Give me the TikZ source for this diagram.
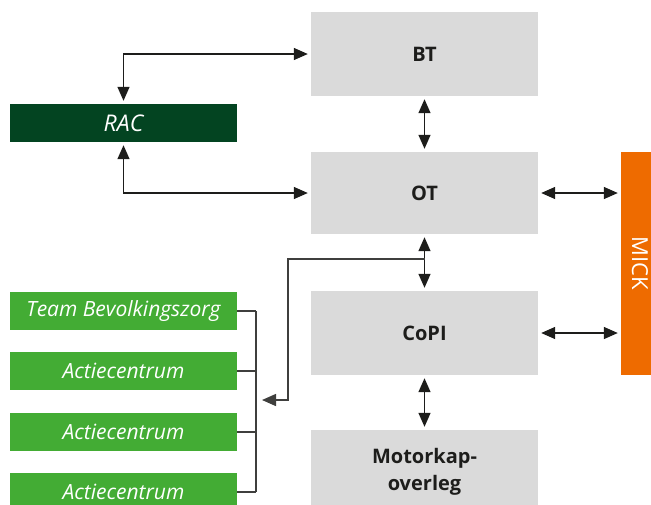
\documentclass[tikz,border=0pt]{standalone}
\usepackage{fontspec}
\setmainfont{Open Sans}
\usepackage{tikz}
\usetikzlibrary{arrows.meta, positioning, calc}
\definecolor{boxgray}{RGB}{218, 218, 218}
\definecolor{racgreen}{RGB}{3, 68, 33}
\definecolor{leaf}{RGB}{67, 172, 52}
\definecolor{mickorange}{RGB}{238, 107, 0}
\definecolor{ink}{RGB}{29, 29, 27}

\begin{document}
\begin{tikzpicture}[x=1pt, y=-1pt,
  gbx/.style={rectangle, fill=boxgray, text=ink,
    font=\fontsize{20pt}{24pt}\selectfont\bfseries,
    minimum width=227pt, minimum height=84pt,
    align=center, inner sep=0pt},
  lbx/.style={rectangle, fill=leaf, text=white,
    font=\fontsize{21pt}{24pt}\selectfont\itshape,
    minimum width=227pt, minimum height=38pt, inner sep=0pt},
  tip/.style={Triangle[length=14pt, width=12pt]},
  arr/.style={{Triangle[length=14pt, width=12pt]}-{Triangle[length=14pt, width=12pt]},
    line width=1.4pt, color=ink, shorten <=3pt, shorten >=3pt},
  lin/.style={line width=1.1pt, color=ink!85}
]
\useasboundingbox (0,0) rectangle (651,504);
\clip (0,0) rectangle (651,504);
\node[gbx] at (424.5, 54)  (bt)    {BT};
\node[gbx, minimum height=82pt] at (424.5, 193) (ot) {OT};
\node[gbx] at (424.5, 333) (copi)  {CoPI};
\node[gbx] at (424.5, 472) (motor) {Motorkap-\\[3pt]overleg};
\node[rectangle, fill=mickorange, minimum width=223pt, minimum height=38pt,
      text=white, font=\fontsize{22pt}{24pt}\selectfont, rotate=-90]
  at (640, 263.5) (mick) {MICK};
\node[lbx, fill=racgreen, font=\fontsize{23pt}{26pt}\selectfont\itshape]
  at (123.5, 123) (rac) {RAC};
\node[lbx] at (123.5, 311) (tb)  {Team Bevolkingszorg};
\node[lbx] at (123.5, 371) (ac1) {Actiecentrum};
\node[lbx] at (123.5, 432) (ac2) {Actiecentrum};
\node[lbx] at (123.5, 492) (ac3) {Actiecentrum};
% links to the RAC
\draw[arr] (rac.north) |- (bt.west);
\draw[arr] (rac.south) |- (ot.west);
% column
\draw[arr] (bt.south)   -- (ot.north);
\draw[arr] (ot.south)   -- (copi.north);
\draw[arr] (copi.south) -- (motor.north);
\draw[arr] (ot.east)   -- (ot.east -| mick.south);
\draw[arr] (copi.east) -- (copi.east -| mick.south);
% branch to the field units
\coordinate (split) at (424.5, 259);
\coordinate (hub)   at (262, 400);
\draw[lin, line width=1.4pt, -{Triangle[length=14pt, width=12pt]}]
  (split) -- ++(-136.5, 0) |- (hub);
\coordinate (brk) at (256, 0);
\foreach \n in {tb, ac1, ac2, ac3}
  \draw[lin] (\n.east) -- (\n.east -| brk);
\draw[lin] (tb.east -| brk) -- (ac3.east -| brk);
\end{tikzpicture}
\end{document}
